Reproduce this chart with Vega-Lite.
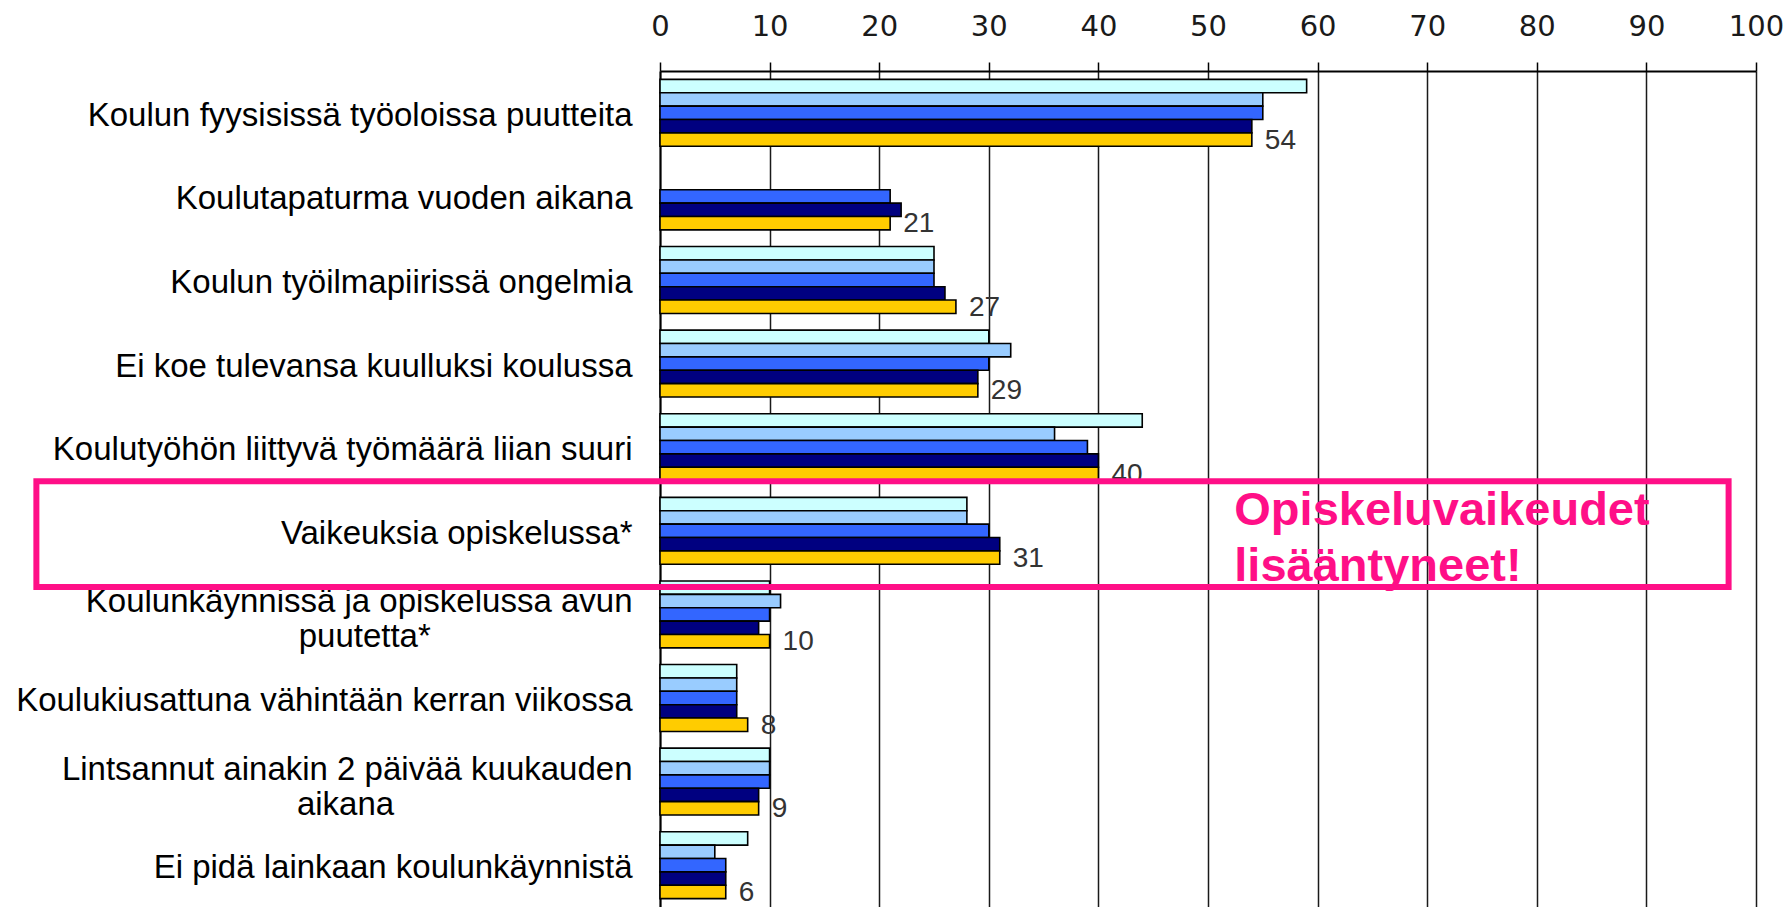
{
  "$schema": "https://vega.github.io/schema/vega-lite/v6.json",
  "width": 1096,
  "height": 836,
  "padding": {"left": 5, "top": 5, "right": 3, "bottom": 0},
  "background": "white",
  "config": {"view": {"stroke": null}, "font": "Liberation Sans"},
  "resolve": {"scale": {"y": "independent"}, "axis": {"y": "independent"}},
  "layer": [
    {
      "data": {
        "values": [
          {"k": "Koulun fyysisissä työoloissa puutteita", "s": "2000/01", "v": 59},
          {"k": "Koulun fyysisissä työoloissa puutteita", "s": "2002/03", "v": 55},
          {"k": "Koulun fyysisissä työoloissa puutteita", "s": "2004/05", "v": 55},
          {"k": "Koulun fyysisissä työoloissa puutteita", "s": "2006/07", "v": 54},
          {"k": "Koulun fyysisissä työoloissa puutteita", "s": "2008/09", "v": 54},
          {"k": "Koulutapaturma vuoden aikana", "s": "2004/05", "v": 21},
          {"k": "Koulutapaturma vuoden aikana", "s": "2006/07", "v": 22},
          {"k": "Koulutapaturma vuoden aikana", "s": "2008/09", "v": 21},
          {"k": "Koulun työilmapiirissä ongelmia", "s": "2000/01", "v": 25},
          {"k": "Koulun työilmapiirissä ongelmia", "s": "2002/03", "v": 25},
          {"k": "Koulun työilmapiirissä ongelmia", "s": "2004/05", "v": 25},
          {"k": "Koulun työilmapiirissä ongelmia", "s": "2006/07", "v": 26},
          {"k": "Koulun työilmapiirissä ongelmia", "s": "2008/09", "v": 27},
          {"k": "Ei koe tulevansa kuulluksi koulussa", "s": "2000/01", "v": 30},
          {"k": "Ei koe tulevansa kuulluksi koulussa", "s": "2002/03", "v": 32},
          {"k": "Ei koe tulevansa kuulluksi koulussa", "s": "2004/05", "v": 30},
          {"k": "Ei koe tulevansa kuulluksi koulussa", "s": "2006/07", "v": 29},
          {"k": "Ei koe tulevansa kuulluksi koulussa", "s": "2008/09", "v": 29},
          {"k": "Koulutyöhön liittyvä työmäärä liian suuri", "s": "2000/01", "v": 44},
          {"k": "Koulutyöhön liittyvä työmäärä liian suuri", "s": "2002/03", "v": 36},
          {"k": "Koulutyöhön liittyvä työmäärä liian suuri", "s": "2004/05", "v": 39},
          {"k": "Koulutyöhön liittyvä työmäärä liian suuri", "s": "2006/07", "v": 40},
          {"k": "Koulutyöhön liittyvä työmäärä liian suuri", "s": "2008/09", "v": 40},
          {"k": "Vaikeuksia opiskelussa*", "s": "2000/01", "v": 28},
          {"k": "Vaikeuksia opiskelussa*", "s": "2002/03", "v": 28},
          {"k": "Vaikeuksia opiskelussa*", "s": "2004/05", "v": 30},
          {"k": "Vaikeuksia opiskelussa*", "s": "2006/07", "v": 31},
          {"k": "Vaikeuksia opiskelussa*", "s": "2008/09", "v": 31},
          {"k": "Koulunkäynnissä ja opiskelussa avun puutetta*", "s": "2000/01", "v": 10},
          {"k": "Koulunkäynnissä ja opiskelussa avun puutetta*", "s": "2002/03", "v": 11},
          {"k": "Koulunkäynnissä ja opiskelussa avun puutetta*", "s": "2004/05", "v": 10},
          {"k": "Koulunkäynnissä ja opiskelussa avun puutetta*", "s": "2006/07", "v": 9},
          {"k": "Koulunkäynnissä ja opiskelussa avun puutetta*", "s": "2008/09", "v": 10},
          {"k": "Koulukiusattuna vähintään kerran viikossa", "s": "2000/01", "v": 7},
          {"k": "Koulukiusattuna vähintään kerran viikossa", "s": "2002/03", "v": 7},
          {"k": "Koulukiusattuna vähintään kerran viikossa", "s": "2004/05", "v": 7},
          {"k": "Koulukiusattuna vähintään kerran viikossa", "s": "2006/07", "v": 7},
          {"k": "Koulukiusattuna vähintään kerran viikossa", "s": "2008/09", "v": 8},
          {"k": "Lintsannut ainakin 2 päivää kuukauden aikana", "s": "2000/01", "v": 10},
          {"k": "Lintsannut ainakin 2 päivää kuukauden aikana", "s": "2002/03", "v": 10},
          {"k": "Lintsannut ainakin 2 päivää kuukauden aikana", "s": "2004/05", "v": 10},
          {"k": "Lintsannut ainakin 2 päivää kuukauden aikana", "s": "2006/07", "v": 9},
          {"k": "Lintsannut ainakin 2 päivää kuukauden aikana", "s": "2008/09", "v": 9},
          {"k": "Ei pidä lainkaan koulunkäynnistä", "s": "2000/01", "v": 8},
          {"k": "Ei pidä lainkaan koulunkäynnistä", "s": "2002/03", "v": 5},
          {"k": "Ei pidä lainkaan koulunkäynnistä", "s": "2004/05", "v": 6},
          {"k": "Ei pidä lainkaan koulunkäynnistä", "s": "2006/07", "v": 6},
          {"k": "Ei pidä lainkaan koulunkäynnistä", "s": "2008/09", "v": 6}
        ]
      },
      "layer": [
        {
          "mark": {"type": "bar", "stroke": "#000000", "strokeWidth": 1.6},
          "encoding": {
            "y": {
              "field": "k", "type": "nominal",
              "sort": ["Koulun fyysisissä työoloissa puutteita", "Koulutapaturma vuoden aikana", "Koulun työilmapiirissä ongelmia", "Ei koe tulevansa kuulluksi koulussa", "Koulutyöhön liittyvä työmäärä liian suuri", "Vaikeuksia opiskelussa*", "Koulunkäynnissä ja opiskelussa avun puutetta*", "Koulukiusattuna vähintään kerran viikossa", "Lintsannut ainakin 2 päivää kuukauden aikana", "Ei pidä lainkaan koulunkäynnistä"],
              "scale": {"paddingInner": 0.2, "paddingOuter": 0.1},
              "axis": {
                "title": null, "labelFont": "Liberation Sans", "labelFontSize": 33, "labelColor": "#000000",
                "labelPadding": 28, "labelLimit": 800, "ticks": false, "tickSize": 0,
                "domain": true, "domainColor": "#000000", "domainWidth": 2,
                "labelLineHeight": 35,
                "labelOffset": {"condition": {"test": "datum.value == 'Koulunkäynnissä ja opiskelussa avun puutetta*' || datum.value == 'Lintsannut ainakin 2 päivää kuukauden aikana'", "value": -12}, "value": 3},
                "minExtent": 655, "maxExtent": 655,
                "labelExpr": "datum.value == 'Koulunkäynnissä ja opiskelussa avun puutetta*' ? ['Koulunkäynnissä ja opiskelussa avun', 'puutetta*\u00a0\u00a0\u00a0\u00a0\u00a0\u00a0\u00a0\u00a0\u00a0\u00a0\u00a0\u00a0\u00a0\u00a0\u00a0\u00a0\u00a0\u00a0\u00a0\u00a0\u00a0\u00a0\u200b'] : datum.value == 'Lintsannut ainakin 2 päivää kuukauden aikana' ? ['Lintsannut ainakin 2 päivää kuukauden', 'aikana\u00a0\u00a0\u00a0\u00a0\u00a0\u00a0\u00a0\u00a0\u00a0\u00a0\u00a0\u00a0\u00a0\u00a0\u00a0\u00a0\u00a0\u00a0\u00a0\u00a0\u00a0\u00a0\u00a0\u00a0\u00a0\u00a0\u200b'] : datum.label"
              }
            },
            "yOffset": {
              "field": "s", "type": "nominal",
              "scale": {"domain": ["2000/01", "2002/03", "2004/05", "2006/07", "2008/09"], "paddingInner": 0, "paddingOuter": 0}
            },
            "x": {
              "field": "v", "type": "quantitative",
              "scale": {"domain": [0, 100], "nice": false},
              "axis": {
                "orient": "top", "title": null, "values": [0, 10, 20, 30, 40, 50, 60, 70, 80, 90, 100],
                "grid": true, "gridColor": "#1a1a1a", "gridWidth": 1.5, "gridOpacity": 1,
                "domainColor": "#000000", "domainWidth": 2, "tickColor": "#000000", "tickWidth": 1.5, "tickSize": 9,
                "labelFont": "DejaVu Sans", "labelFontSize": 29, "labelColor": "#1a1a1a", "labelPadding": 21,
                "labelFlush": false, "labelOverlap": false, "minExtent": 66, "maxExtent": 66
              }
            },
            "color": {
              "field": "s", "type": "nominal",
              "scale": {"domain": ["2000/01", "2002/03", "2004/05", "2006/07", "2008/09"], "range": ["#CCFFFF", "#99CCFF", "#3366FF", "#000080", "#FFCC00"]},
              "legend": null
            }
          }
        },
        {
          "transform": [{"filter": "datum.s == '2008/09'"}],
          "mark": {"type": "text", "align": "left", "baseline": "middle", "dx": 13, "dy": 1, "fontSize": 28, "font": "Liberation Sans", "fill": "#333333"},
          "encoding": {
            "y": {
              "field": "k", "type": "nominal",
              "sort": ["Koulun fyysisissä työoloissa puutteita", "Koulutapaturma vuoden aikana", "Koulun työilmapiirissä ongelmia", "Ei koe tulevansa kuulluksi koulussa", "Koulutyöhön liittyvä työmäärä liian suuri", "Vaikeuksia opiskelussa*", "Koulunkäynnissä ja opiskelussa avun puutetta*", "Koulukiusattuna vähintään kerran viikossa", "Lintsannut ainakin 2 päivää kuukauden aikana", "Ei pidä lainkaan koulunkäynnistä"]
            },
            "yOffset": {"field": "s", "type": "nominal", "scale": {"domain": ["2000/01", "2002/03", "2004/05", "2006/07", "2008/09"], "paddingInner": 0, "paddingOuter": 0}},
            "x": {"field": "v", "type": "quantitative", "scale": {"domain": [0, 100], "nice": false}},
            "text": {"field": "v", "type": "quantitative"}
          }
        }
      ]
    },
    {
      "data": {"values": [{"note": "Opiskeluvaikeudet\nlisääntyneet!"}]},
      "layer": [
        {
          "mark": {"type": "rect", "filled": false, "stroke": "#FF0F87", "strokeWidth": 6},
          "encoding": {
            "x": {"datum": -56.9, "type": "quantitative", "scale": {"domain": [0, 100], "nice": false}},
            "x2": {"datum": 97.5},
            "y": {"datum": 4.908, "type": "quantitative", "scale": {"domain": [0, 10], "reverse": true, "nice": false, "zero": false}, "axis": null},
            "y2": {"datum": 6.172}
          }
        },
        {
          "mark": {"type": "text", "align": "left", "baseline": "alphabetic", "fontSize": 47, "fontWeight": "bold", "font": "Liberation Sans", "fill": "#FF0F87", "lineBreak": "\n", "lineHeight": 56},
          "encoding": {
            "x": {"datum": 52.4, "type": "quantitative", "scale": {"domain": [0, 100], "nice": false}},
            "y": {"datum": 5.43, "type": "quantitative", "scale": {"domain": [0, 10], "reverse": true, "nice": false, "zero": false}, "axis": null},
            "text": {"field": "note"}
          }
        }
      ]
    }
  ]
}
